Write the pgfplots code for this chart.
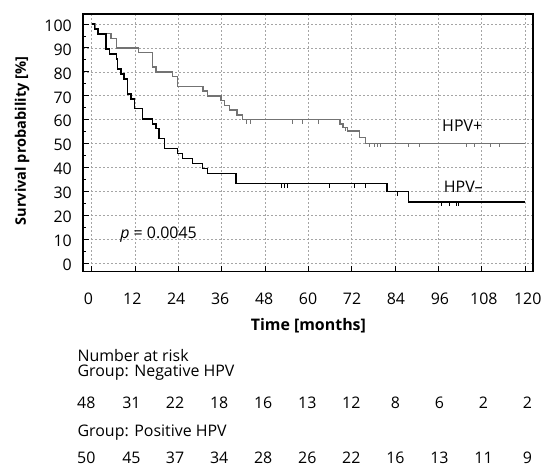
\documentclass[border=0pt]{standalone}
\usepackage{fontspec}
\setmainfont{Open Sans}
\usepackage{pgfplots}
\pgfplotsset{compat=1.18}
\pgfdeclareplotmark{cens}{\pgfpathmoveto{\pgfpoint{0pt}{0pt}}\pgfpathlineto{\pgfpoint{0pt}{-4bp}}\pgfusepathqstroke}
\definecolor{hpvpos}{RGB}{115,115,115}
\definecolor{gridc}{RGB}{165,165,165}
\newcommand{\fs}{\fontsize{16}{19}\selectfont}
\tikzset{txt/.style={font=\fs, inner sep=0pt}}
\begin{document}
\begin{tikzpicture}
\begin{axis}[
 name=ax,
 scale only axis, width=450bp, height=257.7bp,
 xmin=-2.4, xmax=122.2, ymin=-3.5, ymax=104.2,
 xtick={0,12,...,120}, ytick={0,10,...,100}, minor ytick={5,15,...,95},
 tick align=inside, tick pos=left,
 major tick length=6bp, minor tick length=3.5bp,
 grid=major, major grid style={gridc, dash pattern=on 2bp off 2bp, line width=0.7bp},
 axis line style={line width=1.1bp},
 tick style={black, line width=1bp},
 ticklabel style={font=\fs},
 /pgf/number format/assume math mode=true,
 xticklabel style={anchor=base, yshift=-32.3bp, xshift={(-3.3+0.6*\ticknum)*1bp}},
 yticklabel style={xshift=-7.7bp, yshift=-1.5bp},
 clip=false,
]
% HPV+ (grey)
\addplot[const plot, hpvpos, line width=1.4bp] coordinates {
(0,100) (0.9,98) (1.7,96) (5.4,94) (6.9,90) (13,88) (16.9,82) (17.8,80) (22.3,78) (23.8,74) (30.8,72) (32.1,70) (35.8,68) (36.8,66) (38.1,64) (40.2,62) (41.8,60) (68.8,58.2) (69.6,56.8) (70.9,55.3) (74.1,52.6) (75.8,50.1) (120,50.1)};
\addplot[only marks, mark=cens, hpvpos, mark options={line width=1bp}] coordinates {
(43,60) (44,60) (55.7,60) (58.4,60) (62.9,60) (70.3,56.8)
(77.0,50.1) (78.3,50.1) (79.2,50.1) (80.0,50.1) (87.6,50.1) (90.8,50.1) (103.7,50.1) (106,50.1) (110.5,50.1) (112.8,50.1)};
% HPV- (black)
\addplot[const plot, black, line width=1.4bp] coordinates {
(0,100) (0.75,97.9) (1.7,95.8) (4.0,89.6) (4.9,87.5) (6.8,85.4) (7.2,81.25) (8.1,79.2) (9.0,77.1) (10.0,70.8) (10.9,68.75) (11.8,64.6) (14.1,60.4) (16.9,58.3) (17.8,56.25) (18.6,52.1) (20.1,47.9) (23.8,45.8) (25.2,43.75) (28.0,41.7) (30.7,39.6) (32.1,37.5) (40.0,33.3) (81.8,30.0) (87.8,25.6) (120,25.6)};
\addplot[only marks, mark=cens, black, mark options={line width=1bp}] coordinates {
(52.7,33.3) (53.4,33.3) (54.3,33.3) (65.8,33.3) (72.8,33.3) (75.8,33.3) (84.8,30.0)
(96.8,25.6) (99.1,25.6) (100.9,25.6) (101.7,25.6)};
% annotations
\node[txt] at (axis cs:102.6,57.3) {HPV+};
\node[txt] at (axis cs:102.9,31.8) {HPV–};
\node[txt, anchor=base west] at (axis cs:7.9,10.5) {\textit{p} = 0.0045};
\node[txt, font=\fontsize{14.6}{17}\selectfont\bfseries, rotate=90, anchor=base] at (axis description cs:-0.1267,0.507) {Survival probability [\%]};
\node[txt, font=\fs\bfseries, anchor=base] at (axis cs:60.0,-28.0) {Time [months]};
% number at risk
\node[txt, anchor=base west] at (axis cs:-3.96,-41.0) {Number at risk};
\node[txt, anchor=base west] at (axis cs:-3.96,-47.3) {Group: Negative HPV};
\node[txt, anchor=base west] at (axis cs:-3.96,-72.3) {Group: Positive HPV};
\node[txt, anchor=base] at (axis cs:-1.5,-60.8) {48};
\node[txt, anchor=base] at (axis cs:11.0,-60.8) {31};
\node[txt, anchor=base] at (axis cs:23.1,-60.8) {22};
\node[txt, anchor=base] at (axis cs:35.3,-60.8) {18};
\node[txt, anchor=base] at (axis cs:47.5,-60.8) {16};
\node[txt, anchor=base] at (axis cs:59.7,-60.8) {13};
\node[txt, anchor=base] at (axis cs:71.9,-60.8) {12};
\node[txt, anchor=base] at (axis cs:84.1,-60.8) {8};
\node[txt, anchor=base] at (axis cs:96.3,-60.8) {6};
\node[txt, anchor=base] at (axis cs:108.5,-60.8) {2};
\node[txt, anchor=base] at (axis cs:120.65,-60.8) {2};
\node[txt, anchor=base] at (axis cs:-1.5,-83.5) {50};
\node[txt, anchor=base] at (axis cs:11.0,-83.5) {45};
\node[txt, anchor=base] at (axis cs:23.1,-83.5) {37};
\node[txt, anchor=base] at (axis cs:35.3,-83.5) {34};
\node[txt, anchor=base] at (axis cs:47.5,-83.5) {28};
\node[txt, anchor=base] at (axis cs:59.7,-83.5) {26};
\node[txt, anchor=base] at (axis cs:71.9,-83.5) {22};
\node[txt, anchor=base] at (axis cs:84.1,-83.5) {16};
\node[txt, anchor=base] at (axis cs:96.3,-83.5) {13};
\node[txt, anchor=base] at (axis cs:108.5,-83.5) {11};
\node[txt, anchor=base] at (axis cs:120.65,-83.5) {9};
\end{axis}
\pgfresetboundingbox
\path[use as bounding box] ([shift={(-83bp,-194.3bp)}]ax.south west) rectangle ([shift={(462bp,271.7bp)}]ax.south west);
\end{tikzpicture}
\end{document}
